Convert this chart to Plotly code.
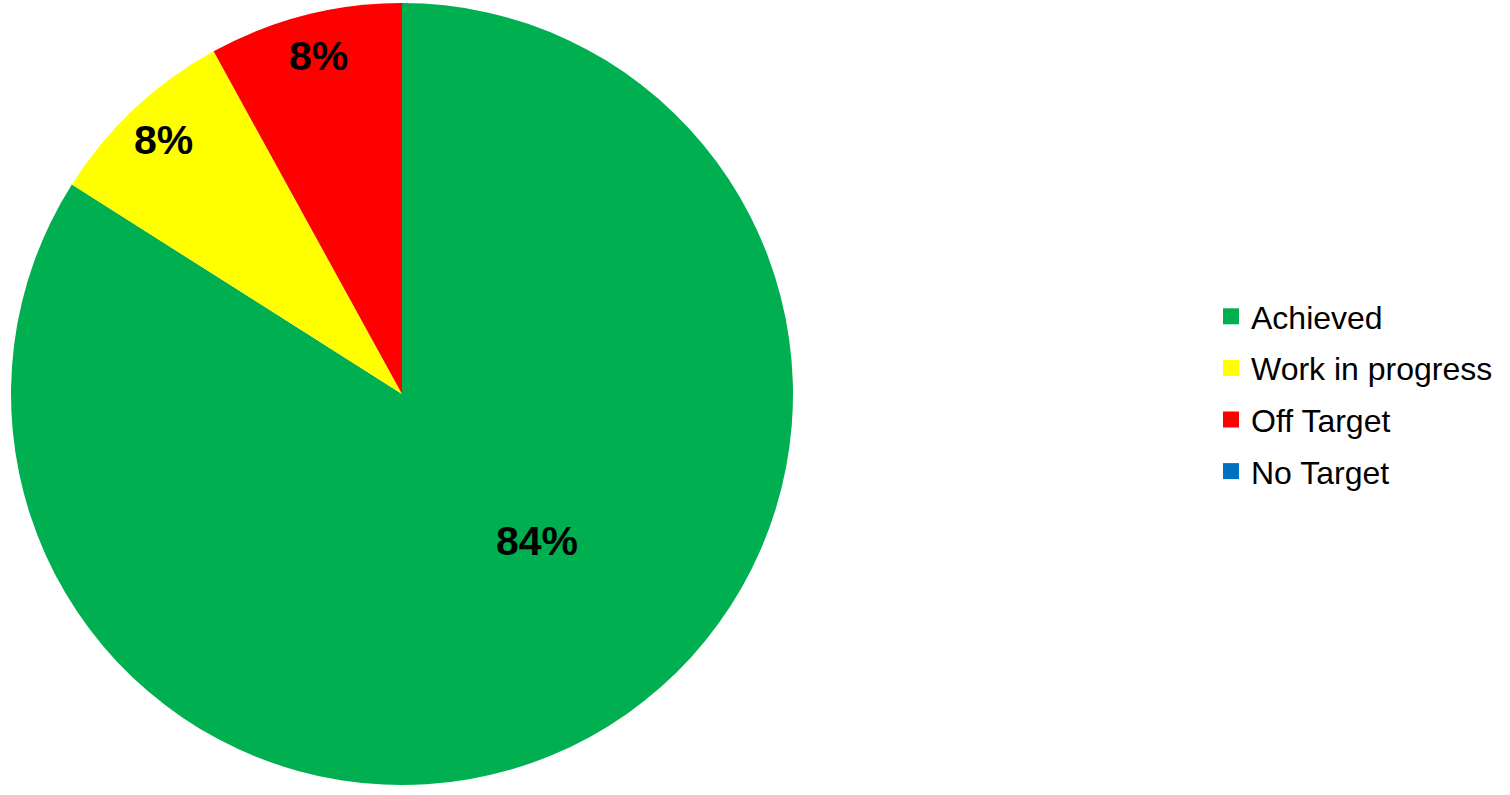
import math
import plotly.graph_objects as go

categories = ["Achieved", "Work in progress", "Off Target", "No Target"]
counts = [21, 2, 2, 0]
colors = ["#00B050", "#FFFF00", "#FF0000", "#0070C0"]

W, H = 1510, 795
cx, cy, r = 402, 394, 391
label_r = [0.51, 0.89, 0.89, 0.89]      # label distance from centre (fraction of radius)
label_frac = [0.454, 0.5, 0.52, 0.5]    # label position along slice angle
FONT = "Liberation Sans, Arial, sans-serif"

fig = go.Figure()
fig.add_trace(go.Pie(
    labels=categories,
    values=counts,
    sort=False,
    direction="clockwise",
    rotation=0,
    marker=dict(colors=colors, line=dict(width=0)),
    textinfo="none",
    domain=dict(x=[(cx - r) / W, (cx + r) / W], y=[(H - cy - r) / H, (H - cy + r) / H]),
    hoverinfo="label+percent",
    showlegend=False,
))

# legend entries
for name, col in zip(categories, colors):
    fig.add_trace(go.Scatter(
        x=[None], y=[None], mode="markers", name=name, legendgroup=name,
        marker=dict(symbol="square", size=16, color=col),
        showlegend=True, hoverinfo="skip",
    ))

# percentage labels positioned from data angles
total = sum(counts)
cum = 0
annotations = []
for v, lr, lf in zip(counts, label_r, label_frac):
    if v > 0:
        ang = (cum + v * lf) / total * 2 * math.pi
        px = cx + lr * r * math.sin(ang)
        py = cy - lr * r * math.cos(ang)
        annotations.append(dict(
            x=px / W, y=1 - py / H, xref="paper", yref="paper",
            text="<b>%d%%</b>" % round(100 * v / total), showarrow=False,
            font=dict(family=FONT, size=41, color="black"),
            xanchor="center", yanchor="middle",
        ))
    cum += v

fig.update_layout(
    width=W, height=H,
    margin=dict(l=0, r=0, t=0, b=0),
    paper_bgcolor="white",
    plot_bgcolor="white",
    xaxis=dict(visible=False),
    yaxis=dict(visible=False),
    showlegend=True,
    annotations=annotations,
    legend=dict(
        x=1211 / W, xanchor="left",
        y=1 - 394 / H, yanchor="middle",
        font=dict(family=FONT, size=32, color="black"),
        traceorder="grouped",
        tracegroupgap=7,
        itemwidth=30,
        itemsizing="trace",
    ),
)

fig.write_html(
    "out.html",
    config={"displayModeBar": False},
    post_script="document.body.style.margin='0';document.body.style.overflow='hidden';",
)
